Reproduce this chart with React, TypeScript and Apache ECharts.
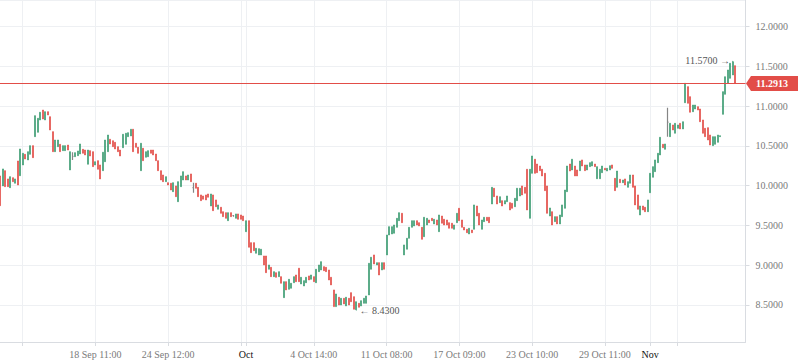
import React, { useEffect, useRef } from "react";
import * as echarts from "echarts";

// ---- data ----
const CATEGORY_COUNT = 298;

const opens = [
  10.123, 9.997, 10.189, 10.085, 9.975, 10.101, 10.031, 10.311, 10.126, 10.261,
  10.395, 10.324, 10.395, 10.504, 10.617, 10.672, 10.827, 10.952, 10.827, 10.931,
  10.868, 10.68, 10.428, 10.491, 10.521, 10.441, 10.441, 10.512, 10.198, 10.37,
  10.365, 10.378, 10.399, 10.458, 10.449, 10.27, 10.441, 10.428, 10.261, 10.315,
  10.261, 10.189, 10.302, 10.428, 10.584, 10.566, 10.546, 10.491, 10.449, 10.478,
  10.521, 10.617, 10.626, 10.71, 10.534, 10.483, 10.189, 10.471, 10.358, 10.365,
  10.449, 10.449, 10.399, 10.315, 10.189, 10.135, 10.051, 10.038, 10.031, 9.925,
  9.997, 9.799, 9.988, 10.072, 10.123, 10.072, 10.148, 9.975, 10.031, 9.98,
  9.884, 9.871, 9.884, 9.896, 9.745, 9.884, 9.821, 9.704, 9.729, 9.673,
  9.661, 9.56, 9.661, 9.625, 9.59, 9.645, 9.632, 9.619, 9.422, 9.56,
  9.284, 9.284, 9.15, 9.129, 9.129, 9.116, 9.116, 8.949, 8.974, 8.856,
  8.906, 8.856, 8.856, 8.592, 8.793, 8.697, 8.71, 8.78, 8.877, 8.962,
  8.764, 8.739, 8.78, 8.865, 8.823, 8.856, 8.78, 8.919, 8.94, 8.982,
  8.974, 8.94, 8.848, 8.689, 8.479, 8.597, 8.5, 8.584, 8.488, 8.584,
  8.655, 8.604, 8.44, 8.521, 8.488, 8.521, 8.521, 8.626, 8.949, 9.129,
  9.003, 9.032, 8.94, 9.032, 9.129, 9.38, 9.393, 9.402, 9.477, 9.56,
  9.653, 9.129, 9.201, 9.339, 9.477, 9.494, 9.56, 9.535, 9.477, 9.359,
  9.506, 9.569, 9.59, 9.519, 9.569, 9.422, 9.619, 9.578, 9.569, 9.535,
  9.528, 9.452, 9.535, 9.716, 9.569, 9.477, 9.452, 9.393, 9.443, 9.452,
  9.745, 9.653, 9.452, 9.548, 9.603, 9.603, 9.77, 9.968, 9.871, 9.787,
  9.812, 9.77, 9.799, 9.787, 9.779, 9.736, 9.812, 9.871, 9.997, 9.98,
  10.207, 9.59, 10.156, 10.333, 10.273, 10.248, 10.207, 10.156, 9.997, 9.619,
  9.673, 9.548, 9.611, 9.519, 9.611, 9.716, 9.925, 10.273, 10.198, 10.248,
  10.198, 10.189, 10.324, 10.261, 10.198, 10.24, 10.248, 10.273, 10.088, 10.088,
  10.164, 10.219, 10.185, 10.198, 10.261, 10.093, 9.98, 10.081, 10.038, 10.085,
  9.98, 10.031, 10.135, 9.997, 9.884, 9.632, 9.745, 9.729, 9.673, 9.912,
  10.106, 10.177, 10.29, 10.387, 10.521, 10.458, 10.8, 10.617, 10.764, 10.66,
  10.722, 10.785, 10.714, 11.044, 11.246, 11.12, 10.931, 10.965, 10.994, 10.965,
  10.827, 10.722, 10.73, 10.638, 10.504, 10.521, 10.546, 10.617, 10.898, 11.15,
  11.288, 11.351, 11.393, 11.51,
];

const closes = [
  9.749, 10.211, 9.988, 9.988, 10.114, 10.051, 10.085, 10.009, 10.462, 10.408,
  10.336, 10.428, 10.504, 10.353, 10.881, 10.848, 10.924, 10.839, 10.931, 10.89,
  10.701, 10.428, 10.575, 10.575, 10.428, 10.504, 10.504, 10.449, 10.428, 10.37,
  10.416, 10.437, 10.525, 10.408, 10.387, 10.449, 10.374, 10.24, 10.302, 10.207,
  10.085, 10.421, 10.575, 10.638, 10.525, 10.491, 10.462, 10.428, 10.374, 10.647,
  10.66, 10.667, 10.71, 10.428, 10.483, 10.408, 10.534, 10.315, 10.428, 10.441,
  10.408, 10.387, 10.315, 10.189, 10.072, 10.051, 10.114, 10.009, 9.946, 10.038,
  9.862, 10.051, 10.123, 10.177, 10.072, 10.135, 10.051, 9.975, 9.968, 9.862,
  9.812, 9.83, 9.821, 9.855, 9.896, 9.686, 9.736, 9.758, 9.653, 9.611,
  9.59, 9.661, 9.611, 9.625, 9.645, 9.578, 9.578, 9.56, 9.56, 9.226,
  9.158, 9.183, 9.213, 9.208, 9.201, 9.003, 8.906, 9.003, 8.856, 8.919,
  8.848, 8.919, 8.773, 8.793, 8.689, 8.823, 8.773, 8.856, 8.793, 8.793,
  8.848, 8.806, 8.848, 8.814, 8.877, 8.793, 8.949, 9.003, 9.045, 8.931,
  8.919, 8.814, 8.752, 8.479, 8.638, 8.5, 8.584, 8.513, 8.597, 8.5,
  8.541, 8.446, 8.541, 8.471, 8.554, 8.584, 8.613, 9.024, 9.1, 9.016,
  9.032, 8.877, 9.032, 8.949, 9.38, 9.485, 9.485, 9.506, 9.59, 9.661,
  9.535, 9.255, 9.339, 9.477, 9.56, 9.56, 9.506, 9.494, 9.326, 9.603,
  9.59, 9.535, 9.56, 9.578, 9.506, 9.632, 9.528, 9.506, 9.506, 9.465,
  9.465, 9.506, 9.653, 9.56, 9.477, 9.443, 9.409, 9.465, 9.409, 9.758,
  9.619, 9.506, 9.569, 9.603, 9.56, 9.535, 9.98, 9.862, 9.77, 9.862,
  9.745, 9.812, 9.871, 9.695, 9.716, 9.842, 9.968, 9.968, 9.884, 9.905,
  9.695, 10.207, 10.374, 10.156, 10.164, 10.189, 10.123, 9.938, 9.653, 9.72,
  9.506, 9.611, 9.519, 9.632, 9.758, 9.946, 10.248, 10.185, 10.333, 10.123,
  10.123, 10.311, 10.248, 10.189, 10.261, 10.29, 10.302, 10.24, 10.24, 10.207,
  10.248, 10.198, 10.219, 10.252, 10.219, 9.938, 10.185, 10.038, 10.072, 10.009,
  10.051, 10.135, 9.98, 9.758, 9.704, 9.745, 9.695, 9.673, 9.821, 10.156,
  10.24, 10.324, 10.408, 10.609, 10.478, 10.525, 10.8, 10.785, 10.701, 10.785,
  10.764, 10.714, 10.805, 11.288, 11.037, 10.924, 11.015, 11.015, 10.952, 10.805,
  10.66, 10.617, 10.575, 10.512, 10.617, 10.617, 10.638, 10.629, 11.183, 11.371,
  11.456, 11.54, 11.56, 11.2913,
];

// bars whose wick reaches beyond the body: [index, low, high]
const wicks: [number, number, number][] = [
  [29, 10.324, 10.421],
  [77, 9.912, 10.038],
  [93, 9.611, 9.632],
  [142, 8.43, 8.541],
  [266, 10.617, 10.981],
  [292, 11.393, 11.57],
  [293, 11.2913, 11.51],
];

const gridTicks = [9, 38, 67, 96, 98, 125, 154, 183, 212, 241, 259, 270];
const tickLabels: Record<number, string> = {
  38: "18 Sep 11:00",
  67: "24 Sep 12:00",
  98: "Oct",
  125: "4 Oct 14:00",
  154: "11 Oct 08:00",
  183: "17 Oct 09:00",
  212: "23 Oct 10:00",
  241: "29 Oct 11:00",
  259: "Nov",
};
const monthLabels = ["Oct", "Nov"];

const lastPrice = 11.2913;
const lowPoint = { index: 142, value: 8.43 };
const highPoint = { index: 292, value: 11.57 };

// ---- style ----
const FONT = "'Liberation Serif', serif";
const UP = "#3f9e74";
const DOWN = "#e24d48";
const DOJI = "#858585";
const GRID = "#eef0f3";
const AXIS = "#d9dce1";
const PLOT_WIDTH = 745.5;

export default function App() {
  const ref = useRef<HTMLDivElement>(null);

  useEffect(() => {
    document.body.style.margin = "0";
    if (!ref.current) return;
    const chart = echarts.init(ref.current, undefined, { renderer: "svg" });

    const categories = Array.from({ length: CATEGORY_COUNT }, (_, i) => String(i));
    const wickMap = new Map<number, [number, number]>();
    wicks.forEach(([i, lo, hi]) => wickMap.set(i, [lo, hi]));
    const gridSet = new Set(gridTicks);

    const candles = opens.map((o, i) => {
      const c = closes[i];
      let lo = Math.min(o, c);
      let hi = Math.max(o, c);
      const w = wickMap.get(i);
      if (w) {
        lo = w[0];
        hi = w[1];
      }
      const item: any = { value: [o, c, lo, hi] };
      if (o === c) {
        item.itemStyle = {
          color: DOJI,
          color0: DOJI,
          borderColor: DOJI,
          borderColor0: DOJI,
          borderWidth: 1.2,
        };
      }
      return item;
    });

    chart.setOption({
      animation: false,
      backgroundColor: "#ffffff",
      grid: { left: 0, top: 0, width: PLOT_WIDTH, height: 342 },
      xAxis: {
        type: "category",
        data: categories,
        boundaryGap: false,
        axisLine: { show: true, lineStyle: { color: AXIS } },
        axisTick: {
          show: true,
          length: 4,
          interval: (i: number) => gridSet.has(i),
          lineStyle: { color: AXIS },
        },
        axisLabel: {
          interval: (i: number) => tickLabels[i] !== undefined,
          formatter: (v: string) => tickLabels[Number(v)] ?? "",
          color: (v: string) =>
            monthLabels.includes(tickLabels[Number(v)] ?? "") ? "#111111" : "#7a7a7a",
          fontFamily: FONT,
          fontSize: 10,
          margin: 7,
        },
        splitLine: {
          show: true,
          interval: (i: number) => gridSet.has(i),
          lineStyle: { color: GRID, width: 1 },
        },
      },
      yAxis: {
        type: "value",
        position: "right",
        min: 8.034,
        max: 12.336,
        splitNumber: 8,
        minInterval: 0.5,
        maxInterval: 0.5,
        axisLine: { show: true, lineStyle: { color: AXIS } },
        axisTick: { show: true, length: 4, lineStyle: { color: AXIS } },
        axisLabel: {
          showMinLabel: false,
          showMaxLabel: false,
          formatter: (v: number) => v.toFixed(4),
          color: "#7a7a7a",
          fontFamily: FONT,
          fontSize: 10,
          margin: 10,
        },
        splitLine: { show: true, lineStyle: { color: GRID, width: 1 } },
      },
      series: [
        {
          type: "candlestick",
          data: candles,
          barWidth: 1.5,
          itemStyle: {
            color: UP,
            color0: DOWN,
            borderColor: UP,
            borderColor0: DOWN,
            borderWidth: 0.7,
          },
          markPoint: {
            silent: true,
            symbol: "circle",
            symbolSize: 0,
            itemStyle: { color: "rgba(0,0,0,0)" },
            label: {
              show: true,
              color: "#555555",
              fontFamily: FONT,
              fontSize: 10,
            },
            data: [
              {
                coord: [lowPoint.index, lowPoint.value],
                label: {
                  position: "right",
                  distance: 3,
                  formatter: "\u2190 " + lowPoint.value.toFixed(4),
                },
              },
              {
                coord: [highPoint.index, highPoint.value],
                label: {
                  position: "left",
                  distance: 3,
                  formatter: highPoint.value.toFixed(4) + " \u2192",
                },
              },
            ],
          },
        },
      ],
    });

    // current-price line and tag, positioned through the value axis
    const yRaw = chart.convertToPixel({ yAxisIndex: 0 }, lastPrice) as number;
    const y = Math.floor(yRaw) + 0.5;
    const x0 = 746;
    const w = chart.getWidth();
    chart.setOption({
      graphic: [
        {
          type: "line",
          silent: true,
          z: 10,
          shape: { x1: 0, y1: y, x2: PLOT_WIDTH, y2: y },
          style: { stroke: DOWN, lineWidth: 1 },
        },
        {
          type: "polygon",
          silent: true,
          z: 10,
          shape: {
            points: [
              [x0, y],
              [x0 + 5, y - 7.5],
              [w, y - 7.5],
              [w, y + 7.5],
              [x0 + 5, y + 7.5],
            ],
          },
          style: { fill: DOWN },
        },
        {
          type: "text",
          silent: true,
          z: 11,
          x: 756,
          y: y,
          style: {
            text: lastPrice.toFixed(4),
            fill: "#ffffff",
            fontFamily: FONT,
            fontSize: 10,
            fontWeight: "bold",
            verticalAlign: "middle",
            align: "left",
          },
        },
      ],
    });

    return () => chart.dispose();
  }, []);

  return <div ref={ref} style={{ width: 798, height: 363 }} />;
}
